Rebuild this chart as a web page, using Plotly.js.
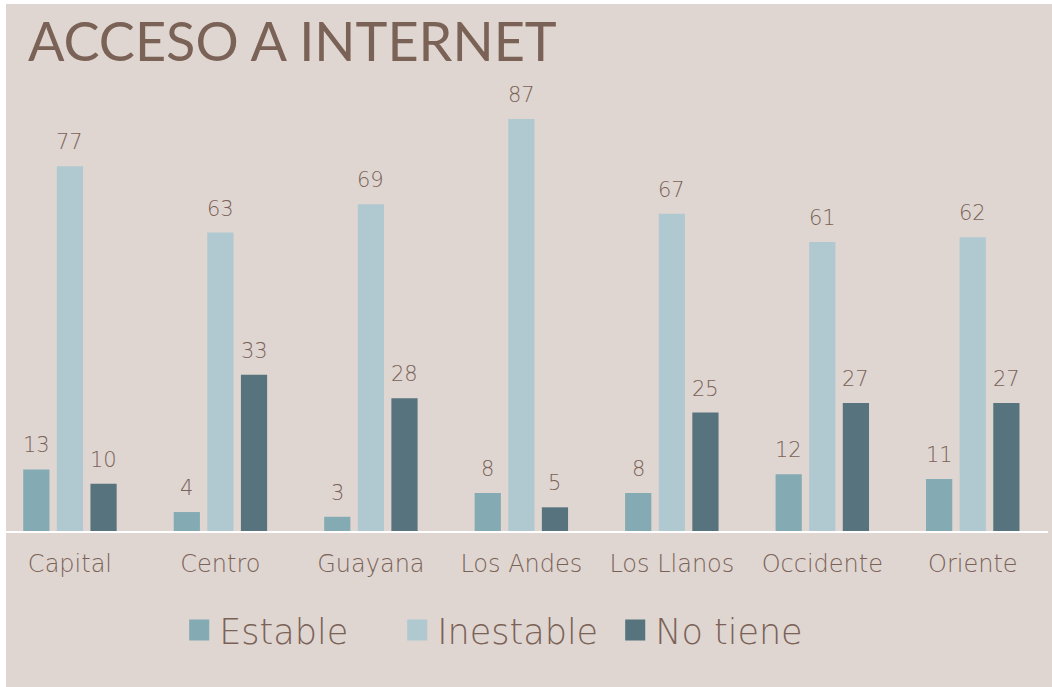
<!DOCTYPE html>
<html>
<head>
<meta charset="utf-8">
<script src="https://cdn.plot.ly/plotly-3.0.1.min.js"></script>
<style>
html,body{margin:0;padding:0;background:#ffffff;overflow:hidden;}
#chart{position:absolute;left:6px;top:4px;width:1046px;height:683px;}
</style>
</head>
<body>
<div id="chart"></div>
<script>
var categories = ["Capital","Centro","Guayana","Los Andes","Los Llanos","Occidente","Oriente"];
var estable = [13,4,3,8,8,12,11];
var inestable = [77,63,69,87,67,61,62];
var noTiene = [10,33,28,5,25,27,27];
var seriesNames = ["Estable","Inestable","No tiene"];

var textColor = "#7B6257";
var colors = ["#84AAB3","#B0C9D0","#56737E"];
var font = "'DejaVu Sans', sans-serif";
var titleFont = "Lato, sans-serif";

var allSeries = [estable, inestable, noTiene];
var data = allSeries.map(function(vals, i){
  return {
    type:"bar", name:seriesNames[i], x:categories, y:vals,
    marker:{color:colors[i]}, hoverinfo:"skip"
  };
});
var annotations = [];
allSeries.forEach(function(vals, i){
  vals.forEach(function(v, j){
    annotations.push({
      x:categories[j], y:v, xref:"x", yref:"y", text:String(v), showarrow:false,
      yanchor:"bottom", yshift:10, xshift:(i-1)*33.6,
      font:{family:font, size:21, color:textColor, weight:200}
    });
  });
});
var layout = {
  width:1046, height:683,
  paper_bgcolor:"#DFD6D1", plot_bgcolor:"#DFD6D1",
  margin:{l:0,r:4,t:77,b:156},
  barmode:"group", bargap:0.33, bargroupgap:0.22,
  title:{text:"ACCESO A INTERNET", xref:"container", yref:"container", x:0.021, xanchor:"left", y:0.944, yanchor:"middle",
    font:{family:titleFont,size:54,color:textColor}},
  xaxis:{type:"category", range:[-0.425,6.5], showline:true, linecolor:"#FFFFFF", linewidth:2,
    ticks:"", ticklabelstandoff:10, tickfont:{family:font,size:24,color:textColor,weight:200}, showgrid:false, zeroline:false},
  yaxis:{range:[0,95], visible:false, showgrid:false, zeroline:false},
  annotations:annotations,
  showlegend:true,
  legend:{orientation:"h", xref:"container", yref:"container", x:0.1656, xanchor:"left", y:0.083, yanchor:"middle",
    font:{family:font,size:35,color:textColor,weight:200}, bgcolor:"rgba(0,0,0,0)", itemwidth:30,
    entrywidthmode:"pixels", entrywidth:173},
  font:{family:font,color:textColor}
};
Plotly.newPlot("chart", data, layout, {displayModeBar:false, staticPlot:true}).then(function(gd){
  var paths = gd.querySelectorAll(".legend .legendpoints path");
  paths.forEach(function(p){
    var t = p.getAttribute("transform") || "";
    p.setAttribute("transform", t + " scale(1.67,1.75)");
  });
});
</script>
</body>
</html>
